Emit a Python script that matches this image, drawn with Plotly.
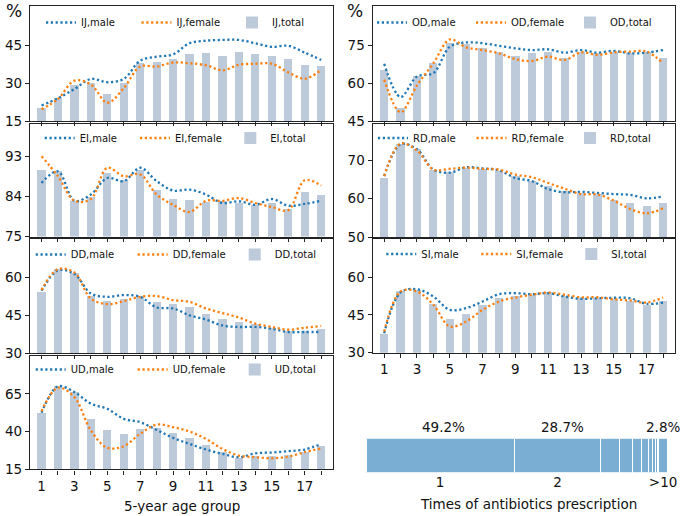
import plotly.graph_objects as go

W, H = 685, 516
age = list(range(1, 19))
xtick_text = [str(a) if a % 2 == 1 else "" for a in age]

ij_total = [20.1, 24.0, 29.4, 30.0, 25.8, 30.1, 37.8, 38.2, 39.5, 41.3, 41.9, 40.8, 42.1, 41.3, 40.6, 39.3, 37.0, 36.9]
ij_male = [21.1, 24.0, 27.6, 31.6, 30.3, 31.6, 38.8, 40.4, 41.3, 45.7, 46.7, 47.0, 47.0, 45.7, 44.3, 44.7, 42.0, 39.1]
ij_female = [19.6, 23.7, 30.9, 29.4, 22.2, 28.0, 36.5, 36.5, 38.1, 37.8, 37.0, 35.0, 37.2, 37.6, 37.6, 34.2, 31.7, 35.2]

ei_total = [90.0, 89.6, 83.0, 83.9, 89.3, 87.7, 90.0, 85.5, 83.3, 83.1, 82.7, 83.0, 82.5, 82.1, 82.4, 81.2, 84.9, 84.4]
ei_male = [87.0, 89.6, 83.0, 84.4, 88.1, 87.4, 90.4, 87.4, 85.3, 85.5, 84.4, 82.5, 82.9, 82.1, 83.4, 81.9, 82.3, 83.0]
ei_female = [93.0, 88.5, 83.0, 83.4, 90.4, 88.5, 88.9, 84.4, 82.1, 80.5, 83.0, 83.0, 83.6, 82.5, 81.6, 80.9, 87.6, 86.4]

dd_total = [54.3, 63.2, 61.6, 52.6, 50.6, 51.6, 52.6, 50.3, 49.4, 48.1, 45.7, 43.4, 42.3, 41.4, 40.1, 39.0, 39.0, 39.7]
dd_male = [54.7, 62.7, 61.3, 53.6, 52.3, 53.0, 52.3, 48.1, 47.7, 45.0, 43.3, 41.0, 40.4, 40.4, 39.7, 38.4, 38.4, 38.4]
dd_female = [55.0, 63.2, 61.9, 51.6, 49.4, 50.6, 52.3, 52.6, 51.0, 50.3, 47.7, 45.9, 44.1, 41.7, 40.4, 39.3, 40.1, 40.8]

ud_total = [52.4, 69.9, 66.1, 48.0, 41.3, 38.5, 41.8, 42.4, 39.1, 35.6, 31.2, 26.7, 22.5, 24.1, 24.1, 24.5, 26.7, 30.7]
ud_male = [52.4, 69.9, 66.1, 58.4, 55.0, 48.4, 46.2, 41.1, 35.8, 31.8, 28.1, 25.2, 23.0, 25.6, 26.1, 27.0, 28.1, 31.8]
ud_female = [53.5, 69.0, 62.8, 40.7, 29.2, 30.3, 38.5, 44.6, 42.9, 40.0, 35.1, 28.5, 24.1, 23.0, 22.3, 23.4, 26.3, 28.9]

od_total = [65.0, 50.2, 62.6, 67.8, 75.7, 75.3, 74.0, 72.3, 70.7, 72.0, 72.1, 70.0, 72.4, 71.7, 72.3, 72.0, 72.1, 69.9]
od_male = [67.6, 54.5, 62.6, 63.9, 74.3, 76.0, 75.7, 74.7, 73.7, 73.0, 73.3, 72.0, 73.0, 72.0, 72.7, 71.7, 72.0, 73.0]
od_female = [61.3, 48.5, 59.1, 67.8, 77.2, 74.1, 73.0, 71.7, 69.4, 68.7, 70.4, 69.1, 72.1, 71.1, 72.1, 72.4, 72.4, 67.8]

rd_total = [65.4, 74.4, 73.1, 67.4, 67.0, 68.1, 67.8, 67.2, 65.9, 64.7, 63.2, 61.9, 61.5, 61.3, 59.6, 58.9, 58.2, 59.0]
rd_male = [65.9, 74.2, 72.9, 67.6, 66.8, 68.2, 67.9, 67.4, 65.4, 64.6, 62.5, 61.7, 61.8, 61.5, 61.2, 61.0, 60.1, 60.6]
rd_female = [65.9, 74.4, 72.6, 67.6, 67.8, 68.1, 67.8, 67.6, 66.3, 65.6, 64.1, 62.6, 61.2, 61.1, 59.5, 57.3, 56.2, 57.5]

si_total = [37.4, 54.6, 55.0, 49.4, 43.4, 45.5, 49.0, 51.9, 52.6, 53.0, 53.9, 52.6, 51.6, 51.6, 51.2, 50.7, 49.0, 50.7]
si_male = [37.7, 53.9, 55.2, 52.3, 47.0, 47.7, 50.3, 53.2, 53.6, 53.2, 53.6, 52.3, 51.4, 51.6, 51.8, 51.6, 49.4, 49.9]
si_female = [38.4, 54.3, 54.3, 49.0, 40.4, 42.4, 47.0, 50.3, 51.9, 53.0, 53.9, 53.0, 52.0, 52.0, 51.2, 50.7, 49.9, 51.9]

ud_yticks = [15, 40, 65]
presc_labels = ["1", "2", "", "", "", "", "", "", "", "", ">10"]
presc_share = [49.2, 28.7, 6.3, 4.3, 3.1, 2.0, 1.4, 1.0, 0.7, 0.5, 2.8]

C_MALE = "#1f77b4"
C_FEMALE = "#ff7f0e"
C_BAR = "#bccad9"
C_PRESC = "#7aaed3"
AX = "#222222"
FONT = "DejaVu Sans"

def px_x(x):
    return x / W

def px_y(y):
    return 1 - y / H

# name, total, male, female, yrange, yticks, pixel box, show x labels, legend text x, legend text y, spacing
panels = [
    ("IJ", ij_total, ij_male, ij_female, [15, 60.4], [15, 30, 45], (30, 332.7, 6, 121), False, 83, 22.5, 95.5),
    ("EI", ei_total, ei_male, ei_female, [75, 100.2], [75, 84, 93], (30, 332.7, 124, 236.5), False, 81.7, 138, 95.3),
    ("DD", dd_total, dd_male, dd_female, [30, 75], [30, 45, 60], (30, 332.7, 239.3, 353.3), False, 72.7, 254.5, 102),
    ("UD", ud_total, ud_male, ud_female, [15, 90], ud_yticks, (30, 332.7, 356, 469.3), True, 72.7, 369.5, 102),
    ("OD", od_total, od_male, od_female, [45, 90.4], [45, 60, 75], (372.7, 674.5, 6, 121), False, 414, 22.5, 99),
    ("RD", rd_total, rd_male, rd_female, [50, 79.5], [50, 60, 70], (372.7, 674.5, 124, 237), False, 415, 138, 98.5),
    ("SI", si_total, si_male, si_female, [30, 75], [30, 45, 60], (372.7, 674.5, 239.3, 352.7), True, 423.3, 254, 95),
]

fig = go.Figure()
layout = dict(
    width=W, height=H,
    margin=dict(l=0, r=0, t=0, b=0, autoexpand=False),
    paper_bgcolor="white", plot_bgcolor="white",
    font=dict(family=FONT, size=13, color="#111"),
    barmode="stack",
    showlegend=True,
    annotations=[],
)

dash = "2.2px,2.6px"
for i, (nm, tot, male, fem, yr, ytk, box, showx, legx, legy, spac) in enumerate(panels):
    k = i + 1
    xa = "x" if k == 1 else f"x{k}"
    ya = "y" if k == 1 else f"y{k}"
    lg = "legend" if k == 1 else f"legend{k}"
    lw = spac - 45
    fig.add_trace(go.Bar(x=age, y=tot, width=0.5, marker=dict(color=C_BAR, line=dict(width=0)),
                         name=f"{nm},total", xaxis=xa, yaxis=ya, legend=lg, legendrank=3,
                         legendwidth=lw))
    fig.add_trace(go.Scatter(x=age, y=male, mode="lines", line=dict(color=C_MALE, width=2.3, dash=dash, shape="spline", smoothing=1.0),
                             name=f"{nm},male", xaxis=xa, yaxis=ya, legend=lg, legendrank=1,
                             legendwidth=lw))
    fig.add_trace(go.Scatter(x=age, y=fem, mode="lines", line=dict(color=C_FEMALE, width=2.3, dash=dash, shape="spline", smoothing=1.0),
                             name=f"{nm},female", xaxis=xa, yaxis=ya, legend=lg, legendrank=2,
                             legendwidth=lw))
    x0, x1, y0, y1 = box
    xkey = "xaxis" if k == 1 else f"xaxis{k}"
    ykey = "yaxis" if k == 1 else f"yaxis{k}"
    layout[xkey] = dict(domain=[px_x(x0), px_x(x1)], anchor=ya, range=[0.3, 18.7],
                        showline=True, mirror=True, linecolor=AX, linewidth=1.4,
                        ticks="outside", ticklen=4, tickwidth=1.2, tickcolor=AX,
                        tickvals=age, ticktext=xtick_text, showticklabels=showx,
                        tickfont=dict(size=13.5), showgrid=False, zeroline=False, fixedrange=True)
    layout[ykey] = dict(domain=[px_y(y1), px_y(y0)], anchor=xa, range=yr,
                        showline=True, mirror=True, linecolor=AX, linewidth=1.4,
                        ticks="outside", ticklen=4, tickwidth=1.2, tickcolor=AX,
                        tickvals=ytk, tickfont=dict(size=13.5), showgrid=False, zeroline=False, fixedrange=True)
    layout[lg] = dict(x=px_x(legx - 42), y=px_y(legy), xanchor="left", yanchor="middle",
                      orientation="h", bgcolor="rgba(0,0,0,0)", borderwidth=0,
                      font=dict(size=10, family=FONT), itemwidth=30, entrywidthmode="pixels",
                      traceorder="normal")

# prescription bar
cum = 0
centers = []
for j, s in enumerate(presc_share):
    fig.add_trace(go.Bar(x=[s], y=[0], orientation="h", width=1.0,
                         marker=dict(color=C_PRESC, line=dict(color="white", width=1)),
                         xaxis="x8", yaxis="y8", showlegend=False, hoverinfo="skip"))
    centers.append(cum + s / 2)
    cum += s

tv = [c for c, l in zip(centers, presc_labels) if l]
tt = [l for l in presc_labels if l]
layout["xaxis8"] = dict(domain=[px_x(366), px_x(667.3)], anchor="y8", range=[0, cum],
                        showline=False, showgrid=False, zeroline=False, ticks="",
                        tickvals=tv, ticktext=tt, tickfont=dict(size=13.5), fixedrange=True)
layout["yaxis8"] = dict(domain=[px_y(472.7), px_y(438.3)], anchor="x8", range=[-0.5, 0.5],
                        visible=False, fixedrange=True)

for j, sh in ((0, 3), (1, 5), (len(presc_share) - 1, 0)):
    layout["annotations"].append(dict(x=centers[j], y=0.5, xref="x8", yref="y8", xshift=sh,
                                      yanchor="bottom", yshift=1, text=f"{presc_share[j]}%",
                                      showarrow=False, font=dict(size=13.5)))

layout["annotations"] += [
    dict(x=px_x(13.5), y=px_y(11), xref="paper", yref="paper", text="%", showarrow=False,
         font=dict(size=17), xanchor="center", yanchor="middle"),
    dict(x=px_x(354.7), y=px_y(11), xref="paper", yref="paper", text="%", showarrow=False,
         font=dict(size=17), xanchor="center", yanchor="middle"),
    dict(x=px_x(181.7), y=px_y(505.5), xref="paper", yref="paper", text="5-year age group",
         showarrow=False, font=dict(size=13.5), xanchor="center", yanchor="middle"),
    dict(x=px_x(528), y=px_y(504), xref="paper", yref="paper", text="Times of antibiotics prescription",
         showarrow=False, font=dict(size=13.5), xanchor="center", yanchor="middle"),
]

fig.update_layout(**layout)
fig.write_html("out.html", config={"displayModeBar": False},
               post_script="document.body.style.margin='0';document.body.style.overflow='hidden';")
